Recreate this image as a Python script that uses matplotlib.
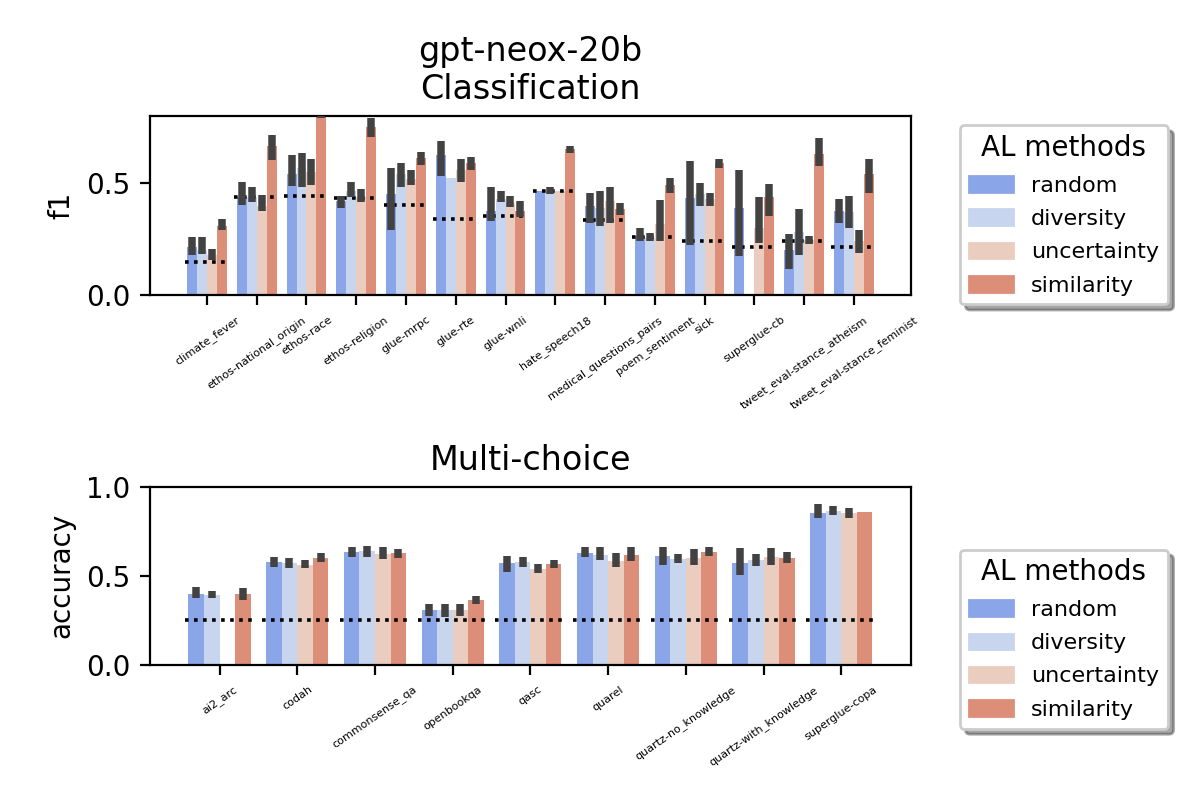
import numpy as np
import matplotlib
matplotlib.use("Agg")
import matplotlib.pyplot as plt
import seaborn as sns
from matplotlib.patches import Patch

nan = np.nan

methods = ['random', 'diversity', 'uncertainty', 'similarity']

# ---- Classification data (f1) ----
cls_tasks = ['climate_fever', 'ethos-national_origin', 'ethos-race', 'ethos-religion',
             'glue-mrpc', 'glue-rte', 'glue-wnli', 'hate_speech18',
             'medical_questions_pairs', 'poem_sentiment', 'sick', 'superglue-cb',
             'tweet_eval-stance_atheism', 'tweet_eval-stance_feminist']

cls_random = [0.215, 0.44, 0.54, 0.42, 0.45, 0.626, 0.375, 0.466, 0.396, 0.265, 0.433, 0.388, 0.202, 0.378]
cls_random_err = [(0.180, 0.262), (0.403, 0.507), (0.488, 0.624), (0.388, 0.445), (0.289, 0.570),
                  (0.530, 0.690), (0.333, 0.485), None, (0.324, 0.458), (0.242, 0.302),
                  (0.222, 0.601), (0.173, 0.557), (0.117, 0.272), (0.324, 0.430)]

cls_diversity = [0.20, 0.44, 0.567, 0.463, 0.54, 0.522, 0.43, 0.466, 0.39, 0.255, 0.45, nan, 0.28, 0.37]
cls_diversity_err = [(0.185, 0.258), (0.414, 0.482), (0.485, 0.637), (0.437, 0.507), (0.485, 0.592),
                     None, (0.418, 0.463), (0.451, 0.485), (0.307, 0.467), (0.240, 0.277),
                     (0.400, 0.503), None, (0.180, 0.385), (0.302, 0.445)]

cls_uncertainty = [0.18, 0.40, 0.552, 0.44, 0.52, 0.557, 0.41, 0.466, 0.42, 0.32, 0.43, 0.30, 0.245, 0.24]
cls_uncertainty_err = [(0.158, 0.205), (0.376, 0.448), (0.490, 0.606), (0.414, 0.473), (0.494, 0.557),
                       (0.507, 0.606), (0.392, 0.445), None, (0.321, 0.485), (0.242, 0.423),
                       (0.400, 0.458), (0.233, 0.440), (0.228, 0.266), (0.190, 0.292)]

cls_similarity = [0.307, 0.664, 0.86, 0.75, 0.612, 0.589, 0.378, 0.652, 0.384, 0.492, 0.589, 0.44, 0.629, 0.54]
cls_similarity_err = [(0.289, 0.339), (0.604, 0.713), (0.79, 0.93), (0.708, 0.79), (0.582, 0.641),
                      (0.559, 0.619), (0.351, 0.421), (0.634, 0.668), (0.356, 0.411), (0.458, 0.522),
                      (0.570, 0.610), (0.354, 0.497), (0.579, 0.704), (0.458, 0.608)]

# zero-shot / majority baseline (dotted)
cls_baseline = [0.147, 0.439, 0.443, 0.433, 0.403, 0.339, 0.354, 0.466, 0.336, 0.26, 0.24, 0.214, 0.242, 0.214]

# ---- Multi-choice data (accuracy) ----
mc_tasks = ['ai2_arc', 'codah', 'commonsense_qa', 'openbookqa', 'qasc', 'quarel',
            'quartz-no_knowledge', 'quartz-with_knowledge', 'superglue-copa']

mc_random = [0.398, 0.578, 0.634, 0.308, 0.57, 0.628, 0.611, 0.572, 0.852]
mc_random_err = [(0.374, 0.436), (0.551, 0.604), (0.607, 0.66), (0.276, 0.34), (0.523, 0.611),
                 (0.604, 0.66), (0.561, 0.663), (0.505, 0.654), (0.823, 0.901)]

mc_diversity = [0.393, 0.572, 0.639, 0.308, 0.576, 0.617, 0.594, 0.589, 0.864]
mc_diversity_err = [(0.374, 0.417), (0.542, 0.598), (0.607, 0.667), (0.267, 0.342), (0.548, 0.604),
                    (0.589, 0.66), (0.57, 0.62), (0.555, 0.62), (0.841, 0.892)]

mc_uncertainty = [nan, 0.561, 0.622, 0.308, 0.538, 0.583, 0.60, 0.606, 0.852]
mc_uncertainty_err = [None, (0.542, 0.589), (0.593, 0.66), (0.276, 0.342), (0.514, 0.565),
                      (0.551, 0.626), (0.561, 0.649), (0.561, 0.654), (0.823, 0.879)]

mc_similarity = [0.398, 0.60, 0.628, 0.364, 0.566, 0.617, 0.634, 0.60, 0.858]
mc_similarity_err = [(0.365, 0.43), (0.579, 0.626), (0.602, 0.65), (0.34, 0.387), (0.542, 0.589),
                     (0.583, 0.66), (0.611, 0.663), (0.57, 0.632), None]

mc_baseline = [0.25, 0.25, 0.25, 0.25, 0.25, 0.25, 0.25, 0.25, 0.25]

colors = sns.color_palette('coolwarm', 4, desat=0.75)


def draw_panel(ax, tasks, means, errs, baseline, ylabel, title, ymax):
    x = np.arange(len(tasks))
    w = 0.8 / len(means)
    # bars
    for k, (vals, c) in enumerate(zip(means, colors)):
        ax.bar(x + (k - 1.5) * w, vals, width=w, color=c, zorder=1)
    # dotted baseline per task
    for i, b in enumerate(baseline):
        ax.plot([i - 0.45, i + 0.45], [b, b], ls=(0, (1, 1.5)), c='k', lw=1.3, zorder=2)
    # error bars
    for k, err in enumerate(errs):
        for i, e in enumerate(err):
            if e is None:
                continue
            ax.plot([x[i] + (k - 1.5) * w] * 2, e, c='.26', lw=2.7,
                    solid_capstyle='butt', zorder=3)
    ax.set_ylim(0, ymax)
    ax.set_xticks(x)
    ax.set_xticklabels(tasks, rotation=35, fontsize=4)
    ax.set_ylabel(ylabel)
    ax.set_title(title, fontsize=12)


fig = plt.figure(figsize=(6, 4), dpi=200)
ax1 = fig.add_axes([0.125, 0.631, 0.634, 0.224])
ax2 = fig.add_axes([0.125, 0.169, 0.634, 0.2225])

draw_panel(ax1, cls_tasks,
           [cls_random, cls_diversity, cls_uncertainty, cls_similarity],
           [cls_random_err, cls_diversity_err, cls_uncertainty_err, cls_similarity_err],
           cls_baseline, 'f1', 'gpt-neox-20b\nClassification', 0.8)
ax1.set_yticks([0.0, 0.5])

draw_panel(ax2, mc_tasks,
           [mc_random, mc_diversity, mc_uncertainty, mc_similarity],
           [mc_random_err, mc_diversity_err, mc_uncertainty_err, mc_similarity_err],
           mc_baseline, 'accuracy', 'Multi-choice', 1.0)
ax2.set_yticks([0.0, 0.5, 1.0])

handles = [Patch(color=c, label=m) for c, m in zip(colors, methods)]
ax1.legend(handles=handles, title='AL methods', loc='upper left', bbox_to_anchor=(1.05, 1.01),
           fontsize=8, title_fontsize=10, shadow=True, labelspacing=0.6)
ax2.legend(handles=handles, title='AL methods', loc='upper left', bbox_to_anchor=(1.05, 0.71),
           fontsize=8, title_fontsize=10, shadow=True, labelspacing=0.6)

fig.savefig('out.png', dpi=200)
